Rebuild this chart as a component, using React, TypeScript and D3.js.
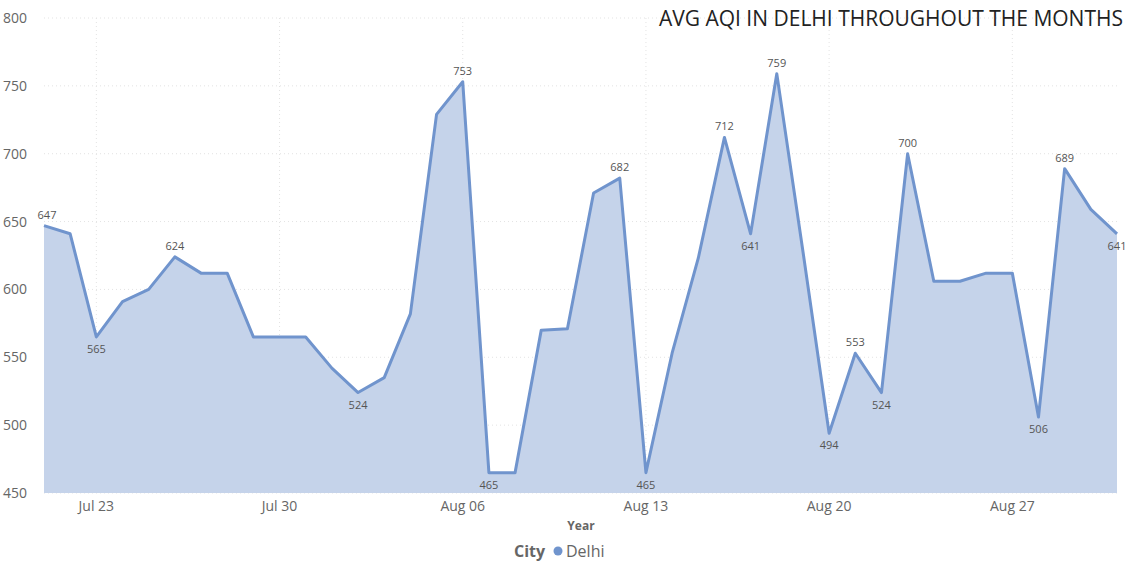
import React from 'react';
import * as d3 from 'd3';

const startDate = new Date(2023, 6, 21);
const aqiValues = [647, 641, 565, 591, 600, 624, 612, 612, 565, 565, 565, 542, 524, 535, 582, 729, 753, 465, 465, 570, 571, 671, 682, 465, 553, 623, 712, 641, 759, 628, 494, 553, 524, 700, 606, 606, 612, 612, 506, 689, 659, 641];
const labelledIdx = [0, 2, 5, 12, 16, 17, 22, 23, 26, 27, 28, 30, 31, 32, 33, 38, 39, 41];
const belowIdx = [2, 12, 17, 23, 27, 30, 32, 38, 41];
const yTicks = [450, 500, 550, 600, 650, 700, 750, 800];
const xTickDates = [new Date(2023, 6, 23), new Date(2023, 6, 30), new Date(2023, 7, 6), new Date(2023, 7, 13), new Date(2023, 7, 20), new Date(2023, 7, 27)];

const W = 1126, H = 572;
const font = "'Segoe UI', 'Open Sans', 'DejaVu Sans', sans-serif";

export default function App() {
    const data = aqiValues.map((v, i) => ({ date: d3.timeDay.offset(startDate, i), value: v }));
    const x = d3.scaleTime().domain([data[0].date, data[data.length - 1].date]).range([44, 1117]);
    const y = d3.scaleLinear().domain([450, 800]).range([493, 18]);
    const area = d3.area<{ date: Date; value: number }>().x(d => x(d.date)).y0(y(450)).y1(d => y(d.value));
    const line = d3.line<{ date: Date; value: number }>().x(d => x(d.date)).y(d => y(d.value));
    const fmt = d3.timeFormat('%b %d');

    return (
        <div style={{ position: 'absolute', left: 0, top: 0 }}>
            <svg width={W} height={H} style={{ display: 'block', fontFamily: font }}>
                <rect width={W} height={H} fill="#fff" />
                {yTicks.map(t => (
                    <g key={t}>
                        <line x1={44} x2={1117} y1={y(t)} y2={y(t)} stroke="#e3e3e3" strokeDasharray="1,3" />
                        <text x={27} y={y(t) + 5} textAnchor="end" fontSize={14} fill="#666">{t}</text>
                    </g>
                ))}
                {xTickDates.map((dt, i) => (
                    <g key={i}>
                        <line x1={x(dt)} x2={x(dt)} y1={18} y2={493} stroke="#e3e3e3" strokeDasharray="1,3" />
                        <text x={x(dt)} y={511} textAnchor="middle" fontSize={14} fill="#666">{fmt(dt)}</text>
                    </g>
                ))}
                <path d={area(data)!} fill="#c5d3ea" />
                <path d={line(data)!} fill="none" stroke="#7094cd" strokeWidth={3} strokeLinejoin="round" />
                {labelledIdx.map(i => {
                    const d = data[i];
                    const below = belowIdx.includes(i);
                    return (
                        <text key={i} x={x(d.date) + (i === 0 ? 3 : 0)} y={y(d.value) + (below ? 16 : -7)} textAnchor="middle" fontSize={11} fill="#555">{d.value}</text>
                    );
                })}
                <text x={581} y={530} textAnchor="middle" fontSize={12} fontWeight="bold" fill="#666">Year</text>
                <text x={1123} y={26} textAnchor="end" fontSize={21} fill="#222">AVG AQI IN DELHI THROUGHOUT THE MONTHS</text>
                <text x={514} y={557} fontSize={16} fontWeight="bold" fill="#666">City</text>
                <circle cx={558} cy={551} r={4.5} fill="#7094cd" />
                <text x={566} y={557} fontSize={16} fill="#666">Delhi</text>
            </svg>
        </div>
    );
}
